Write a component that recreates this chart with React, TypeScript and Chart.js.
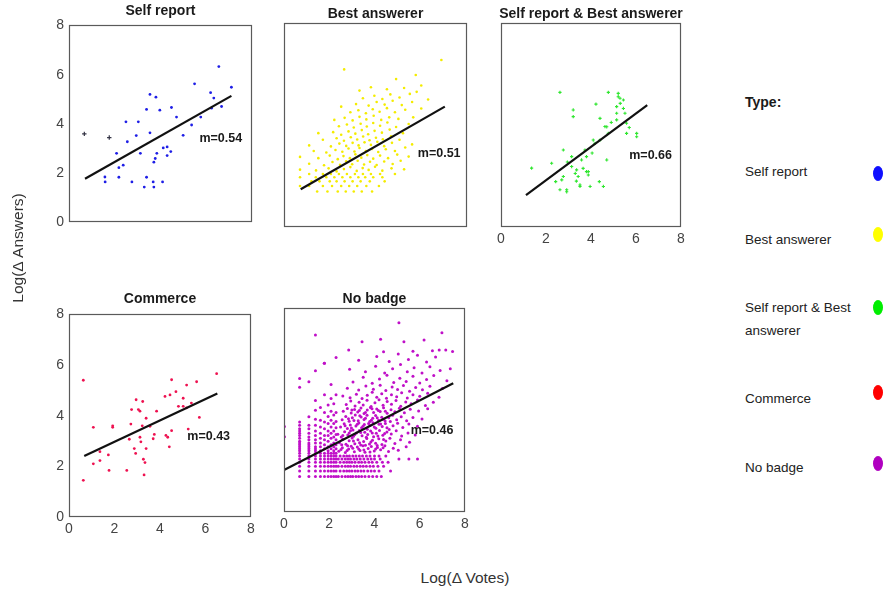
import React, { useEffect, useRef } from "react";
import { Chart, registerables } from "chart.js";
Chart.register(...registerables);

type P = [number, number];
type Row = [number, number[]];

const FONT = "'Liberation Sans', Arial, sans-serif";

// ---------- axis ticks ----------
const tickValues = [0, 2, 4, 6, 8];

// ---------- titles / legend ----------
const panelTitles = ["Self report", "Best answerer", "Self report & Best answerer", "Commerce", "No badge"];
const slopeLabels = ["m=0.54", "m=0.51", "m=0.66", "m=0.43", "m=0.46"];
const legendLabels = ["Self report", "Best answerer", "Self report & Best answerer", "Commerce", "No badge"];
const seriesColors = ["#1e1ee6", "#f4ec00", "#2ee62e", "#ee1150", "#c010c8"];
const legendColors = ["#1010ff", "#ffff00", "#00ee00", "#ff0000", "#b000c0"];

// ---------- Self report ----------
const selfReportPoints: P[] = [
  [1.57, 1.85], [1.58, 1.65], [2.08, 2.81], [2.18, 2.23], [2.18, 1.84], [2.37, 2.33], [2.49, 4.09], [2.55, 3.28],
  [2.75, 1.65], [2.94, 3.53], [3.03, 4.09], [3.12, 2.81], [3.39, 4.59], [3.39, 1.84], [3.29, 1.44], [3.54, 5.2],
  [3.54, 3.64], [3.68, 1.65], [3.71, 1.44], [3.71, 2.45], [3.77, 2.6], [3.8, 5.09], [3.84, 2.81], [3.97, 4.56],
  [4.09, 1.65], [4.12, 3.03], [4.29, 3.07], [4.29, 2.72], [4.45, 2.88], [4.48, 4.67], [4.7, 4.28], [4.99, 3.54],
  [5.36, 3.96], [5.49, 5.63], [5.76, 4.28], [6.19, 5.27], [6.23, 4.64], [6.33, 5.05], [6.55, 6.33], [6.67, 4.71],
  [7.1, 5.49],
];
const selfReportOutliers: P[] = [[0.67, 3.6], [1.76, 3.45]];
const selfReportFit: P[] = [[0.7, 1.78], [7.1, 5.14]];
const selfReportSlopePos: P = [5.7, 3.4];

// ---------- Best answerer ----------
const bestAnswererBottom: Row[] = [
  [1.39, [1.45, 1.9, 2.35, 2.7, 3.05, 3.4, 3.85]],
  [1.61, [0.7, 1.1, 1.7, 2.1, 2.5, 2.85, 3.2, 3.6, 4.15]],
  [1.79, [1.2, 1.55, 2.0, 2.3, 2.65, 3.0, 3.35, 3.75, 4.4]],
  [1.95, [0.7, 1.39, 1.85, 2.2, 2.55, 2.9, 3.25, 3.55, 3.9, 4.3]],
  [2.08, [1.1, 1.7, 2.05, 2.4, 2.75, 3.1, 3.45, 3.8, 4.2, 4.85]],
];
const bestAnswererCloud: P[] = [
  [0.7, 2.25], [1.4, 2.22], [1.95, 2.3], [2.3, 2.18], [2.62, 2.27], [2.9, 2.35], [3.18, 2.2], [3.44, 2.31], [3.7, 2.24], [3.98, 2.36], [4.3, 2.21], [4.7, 2.3], [5.25, 2.26],
  [1.1, 2.48], [1.75, 2.42], [2.12, 2.55], [2.45, 2.44], [2.72, 2.58], [2.98, 2.46], [3.22, 2.6], [3.5, 2.45], [3.76, 2.56], [4.05, 2.43], [4.38, 2.57], [4.75, 2.47], [5.1, 2.6],
  [0.7, 2.75], [1.5, 2.7], [2.0, 2.8], [2.35, 2.66], [2.6, 2.78], [2.88, 2.7], [3.12, 2.85], [3.38, 2.72], [3.64, 2.82], [3.9, 2.68], [4.2, 2.8], [4.55, 2.7], [4.95, 2.84], [5.45, 2.76],
  [1.3, 2.98], [1.85, 2.92], [2.25, 3.02], [2.55, 2.95], [2.82, 3.08], [3.08, 2.96], [3.3, 3.1], [3.58, 2.98], [3.85, 3.06], [4.12, 2.94], [4.45, 3.05], [4.85, 2.98], [5.3, 3.12],
  [1.1, 3.2], [2.05, 3.16], [2.42, 3.27], [2.72, 3.18], [3.0, 3.3], [3.26, 3.2], [3.52, 3.32], [3.8, 3.22], [4.08, 3.34], [4.38, 3.17], [4.72, 3.3], [5.6, 3.24],
  [1.7, 3.42], [2.3, 3.48], [2.62, 3.38], [2.92, 3.52], [3.2, 3.43], [3.46, 3.55], [3.74, 3.4], [4.02, 3.5], [4.32, 3.44], [4.68, 3.56], [5.05, 3.42],
  [1.5, 3.68], [2.15, 3.72], [2.5, 3.62], [2.82, 3.75], [3.12, 3.66], [3.4, 3.8], [3.68, 3.64], [3.96, 3.77], [4.28, 3.7], [4.62, 3.82], [5.2, 3.68],
  [2.4, 3.95], [2.75, 4.02], [3.05, 3.9], [3.35, 4.05], [3.62, 3.94], [3.9, 4.08], [4.2, 3.97], [4.52, 4.1], [4.9, 3.92], [5.45, 4.04],
  [2.2, 4.2], [2.65, 4.28], [3.0, 4.18], [3.3, 4.32], [3.6, 4.22], [3.92, 4.36], [4.25, 4.2], [4.6, 4.3], [5.0, 4.24], [5.65, 4.3],
  [2.9, 4.5], [3.25, 4.58], [3.58, 4.46], [3.88, 4.62], [4.18, 4.52], [4.5, 4.66], [4.85, 4.5], [5.3, 4.6],
  [2.5, 4.72], [3.15, 4.82], [3.7, 4.76], [4.05, 4.9], [4.4, 4.8], [4.75, 4.95], [5.15, 4.78], [5.6, 4.9], [6.0, 4.65],
  [3.45, 5.05], [3.95, 5.15], [4.3, 5.02], [4.65, 5.2], [5.05, 5.08], [5.5, 5.22],
  [3.3, 5.35], [3.8, 5.48], [4.5, 5.4], [5.25, 5.45], [5.8, 5.3], [6.0, 5.55],
  [2.63, 6.18], [5.76, 5.96], [6.88, 6.55], [4.9, 5.8], [6.3, 5.0],
];
const bestAnswererFit: P[] = [[0.73, 1.48], [7.03, 4.72]];
const bestAnswererSlopePos: P = [5.85, 2.9];

// ---------- Self report & Best answerer ----------
const bothPoints: P[] = [
  [2.62, 5.28], [4.77, 5.28], [5.21, 5.24], [5.29, 5.05], [5.14, 4.72], [5.44, 4.65], [4.22, 4.82], [3.21, 4.59],
  [3.21, 4.33], [5.51, 4.46], [5.14, 4.2], [4.62, 3.94], [4.77, 3.67], [5.58, 3.67], [6.03, 3.67], [4.4, 3.41],
  [4.18, 3.28], [3.73, 3.02], [3.14, 2.76], [2.77, 3.02], [3.58, 2.63], [4.7, 2.63], [3.14, 2.37], [2.25, 2.5],
  [3.36, 2.24], [3.8, 2.17], [2.77, 1.98], [3.43, 1.98], [3.88, 2.04], [2.7, 1.85], [2.92, 1.46], [2.62, 1.46],
  [3.51, 1.59], [3.96, 1.59], [4.55, 1.59], [1.36, 2.31], [4.4, 4.26], [5.58, 4.07], [3.8, 2.76], [4.1, 3.41],
  [2.43, 1.78], [4.37, 1.78], [2.92, 1.38], [3.51, 1.65], [3.88, 2.17], [6.03, 3.54], [5.21, 5.11], [5.44, 4.98],
  [4.7, 3.93], [5.14, 4.46], [3.3, 2.1], [3.65, 2.3], [2.95, 2.55], [4.05, 2.9], [3.35, 1.8], [5.7, 3.9],
  [4.9, 4.1], [5.3, 4.85],
];
const bothFit: P[] = [[1.11, 1.25], [6.5, 4.78]];
const bothSlopePos: P = [5.7, 2.82];

// ---------- Commerce ----------
const commercePoints: P[] = [
  [0.63, 5.4], [0.63, 1.45], [1.07, 3.54], [1.07, 2.1], [1.36, 2.23], [1.36, 2.58], [1.73, 2.45], [1.76, 1.84],
  [1.92, 3.6], [1.92, 3.54], [2.54, 1.84], [2.65, 3.07], [2.72, 3.67], [2.75, 4.24], [2.87, 2.7], [2.93, 2.51],
  [2.95, 4.63], [3.05, 4.24], [3.12, 4.18], [3.12, 3.15], [3.16, 2.97], [3.22, 3.6], [3.24, 4.56], [3.27, 2.28],
  [3.3, 1.66], [3.34, 2.15], [3.39, 3.9], [3.39, 2.7], [3.56, 3.58], [3.7, 3.09], [3.75, 3.26], [3.85, 4.18],
  [4.22, 4.76], [4.26, 3.22], [4.34, 3.15], [4.41, 2.77], [4.44, 4.82], [4.51, 3.41], [4.51, 5.42], [4.7, 4.95],
  [4.81, 4.37], [5.02, 4.69], [5.02, 4.37], [5.17, 5.21], [5.24, 3.47], [5.38, 4.5], [5.17, 4.31], [5.61, 5.34],
  [5.73, 3.93], [6.49, 5.66],
];
const commerceFit: P[] = [[0.67, 2.41], [6.52, 4.88]];
const commerceSlopePos: P = [5.2, 3.19];

// ---------- No badge ----------
// columns: x, list of y
const noBadgeColumns: Row[] = [
  [0.69, [1.39, 1.61, 1.79, 1.95, 2.08, 2.2, 2.3, 2.4, 2.48, 2.56, 2.64, 2.71, 2.77, 2.89, 3.0, 3.09, 3.18, 3.26, 3.4, 3.53, 4.89, 5.24]],
  [1.1, [1.39, 1.61, 1.79, 1.95, 2.08, 2.2, 2.3, 2.4, 2.48, 2.56, 2.64, 2.71, 2.83, 2.94, 3.09, 3.26, 3.4, 3.74, 5.11]],
  [1.39, [1.39, 1.61, 1.79, 1.95, 2.08, 2.2, 2.3, 2.4, 2.48, 2.56, 2.71, 2.83, 3.0, 3.18, 3.4, 3.64, 3.99, 4.37, 5.54, 6.94]],
  [1.61, [1.39, 1.61, 1.79, 1.95, 2.08, 2.2, 2.3, 2.4, 2.56, 2.71, 2.89, 3.09, 3.33, 3.6, 4.1]],
  [1.79, [1.39, 1.61, 1.79, 1.95, 2.08, 2.2, 2.3, 2.48, 2.64, 2.83, 3.0, 3.26, 3.53, 3.9, 4.6, 5.83]],
  [1.95, [1.39, 1.61, 1.79, 1.95, 2.08, 2.2, 2.3, 2.4, 2.56, 2.77, 3.0, 3.18, 3.47, 3.75, 4.2]],
  [2.08, [1.39, 1.61, 1.79, 1.95, 2.08, 2.2, 2.3, 2.48, 2.64, 2.89, 3.09, 3.33, 3.6, 3.95, 4.45, 5.0]],
  [2.2, [1.39, 1.61, 1.79, 1.95, 2.08, 2.2, 2.3, 2.4, 2.56, 2.71, 2.94, 3.18, 3.47, 3.8, 4.25]],
  [2.3, [1.39, 1.61, 1.79, 1.95, 2.08, 2.2, 2.3, 2.48, 2.64, 2.83, 3.04, 3.3, 3.55, 3.9, 4.6, 6.06]],
];
// bottom rows: y, list of x
const noBadgeRows: Row[] = [
  [1.39, [2.4, 2.56, 2.71, 2.83, 2.94, 3.04, 3.18, 3.3, 3.43, 3.58, 3.75, 3.92, 4.1, 4.3]],
  [1.61, [2.48, 2.64, 2.77, 2.89, 3.0, 3.14, 3.26, 3.4, 3.53, 3.7, 3.85, 4.0, 4.2, 4.71]],
  [1.79, [2.4, 2.56, 2.71, 2.83, 2.94, 3.09, 3.22, 3.37, 3.5, 3.64, 3.8, 3.95, 4.15, 4.4]],
  [1.95, [2.48, 2.64, 2.77, 2.89, 3.0, 3.14, 3.3, 3.43, 3.58, 3.75, 3.9, 4.1, 4.35, 4.6]],
  [2.08, [2.4, 2.56, 2.71, 2.83, 2.94, 3.09, 3.22, 3.37, 3.53, 3.7, 3.85, 4.0, 4.25, 5.08, 5.52, 5.9]],
  [2.2, [2.48, 2.64, 2.77, 2.89, 3.04, 3.18, 3.33, 3.47, 3.64, 3.8, 4.0, 4.2, 4.5]],
];
const noBadgeCloud: P[] = [
  [2.42, 2.38], [2.58, 2.52], [2.71, 2.33], [2.86, 2.47], [2.97, 2.58], [3.11, 2.36], [3.24, 2.55], [3.36, 2.41], [3.49, 2.6], [3.58, 2.34], [3.72, 2.49], [3.86, 2.57], [3.99, 2.39], [4.13, 2.53], [4.27, 2.44], [4.46, 2.6], [4.62, 2.37], [4.83, 2.5], [5.05, 2.42], [5.4, 2.56],
  [2.45, 2.72], [2.6, 2.85], [2.74, 2.66], [2.88, 2.79], [3.01, 2.9], [3.13, 2.68], [3.27, 2.83], [3.39, 2.63], [3.52, 2.76], [3.66, 2.88], [3.78, 2.67], [3.91, 2.81], [4.05, 2.7], [4.19, 2.87], [4.33, 2.65], [4.5, 2.78], [4.68, 2.89], [4.9, 2.69], [5.15, 2.83], [5.55, 2.74],
  [2.38, 3.05], [2.53, 2.94], [2.68, 3.15], [2.82, 3.02], [2.94, 3.19], [3.07, 2.97], [3.2, 3.1], [3.33, 3.2], [3.45, 2.99], [3.57, 3.13], [3.7, 3.04], [3.83, 3.18], [3.96, 2.95], [4.08, 3.09], [4.22, 3.2], [4.37, 3.01], [4.55, 3.14], [4.74, 3.06], [4.96, 3.19], [5.2, 2.98], [5.48, 3.1], [5.8, 3.02],
  [2.5, 3.33], [2.66, 3.46], [2.8, 3.27], [2.93, 3.41], [3.05, 3.22], [3.18, 3.37], [3.31, 3.49], [3.43, 3.3], [3.55, 3.43], [3.68, 3.25], [3.8, 3.39], [3.93, 3.5], [4.06, 3.28], [4.2, 3.44], [4.34, 3.35], [4.48, 3.47], [4.65, 3.24], [4.82, 3.38], [5.02, 3.48], [5.25, 3.31], [5.52, 3.45], [5.9, 3.36],
  [2.57, 3.62], [2.73, 3.75], [2.88, 3.56], [3.02, 3.7], [3.15, 3.8], [3.28, 3.58], [3.41, 3.73], [3.54, 3.63], [3.67, 3.79], [3.79, 3.55], [3.92, 3.68], [4.05, 3.78], [4.18, 3.6], [4.32, 3.72], [4.47, 3.57], [4.63, 3.7], [4.8, 3.79], [4.98, 3.62], [5.18, 3.74], [5.42, 3.58], [5.7, 3.71], [6.1, 3.65],
  [2.62, 3.95], [2.8, 4.06], [2.97, 3.88], [3.12, 4.02], [3.26, 3.92], [3.4, 4.08], [3.54, 3.86], [3.68, 4.0], [3.82, 4.1], [3.96, 3.9], [4.1, 4.04], [4.25, 3.94], [4.4, 4.09], [4.56, 3.87], [4.73, 4.01], [4.9, 3.93], [5.1, 4.07], [5.32, 3.89], [5.58, 4.03], [5.95, 3.96], [6.35, 4.05],
  [2.75, 4.22], [2.95, 4.35], [3.14, 4.16], [3.32, 4.3], [3.5, 4.2], [3.67, 4.38], [3.85, 4.14], [4.02, 4.28], [4.2, 4.4], [4.38, 4.19], [4.56, 4.33], [4.75, 4.23], [4.95, 4.37], [5.16, 4.15], [5.38, 4.31], [5.62, 4.25], [5.9, 4.39], [6.25, 4.18], [6.6, 4.3],
  [2.6, 4.55], [2.92, 4.48], [3.2, 4.62], [3.45, 4.45], [3.68, 4.58], [3.9, 4.7], [4.1, 4.5], [4.32, 4.64], [4.53, 4.46], [4.75, 4.6], [4.98, 4.52], [5.2, 4.68], [5.45, 4.47], [5.7, 4.6], [6.0, 4.54], [6.35, 4.66], [6.85, 4.5],
  [2.8, 4.85], [3.3, 4.78], [3.62, 4.94], [3.95, 4.81], [4.25, 4.97], [4.5, 4.76], [4.78, 4.9], [5.02, 4.8], [5.28, 4.96], [5.55, 4.74], [5.82, 4.88], [6.12, 4.79], [6.45, 4.93], [7.0, 4.84],
  [3.05, 5.1], [3.5, 5.28], [3.9, 5.05], [4.22, 5.22], [4.55, 5.36], [4.85, 5.08], [5.12, 5.25], [5.4, 5.12], [5.7, 5.32], [6.0, 5.06], [6.3, 5.2], [6.62, 5.35], [7.2, 5.15],
  [2.9, 5.6], [3.6, 5.5], [4.05, 5.72], [4.45, 5.45], [4.8, 5.62], [5.15, 5.78], [5.45, 5.5], [5.75, 5.66], [6.1, 5.45], [6.45, 5.7], [6.9, 5.55], [7.35, 5.62],
  [3.3, 5.95], [4.1, 6.1], [4.65, 5.9], [5.05, 6.2], [5.5, 5.98], [5.9, 6.15], [6.3, 5.88], [6.7, 6.08], [4.4, 6.28], [5.7, 6.3],
  [2.52, 2.45], [2.79, 2.41], [3.04, 2.5], [3.3, 2.47], [3.53, 2.43], [3.8, 2.35], [4.05, 2.47], [4.38, 2.52],
  [2.55, 2.64], [2.81, 2.6], [3.07, 2.78], [3.34, 2.72], [3.6, 2.62], [3.84, 2.75], [4.12, 2.61], [4.4, 2.84],
  [2.6, 3.0], [2.88, 3.1], [3.13, 3.04], [3.39, 3.12], [3.64, 2.93], [3.9, 3.1], [4.15, 2.98], [4.45, 3.08],
  [2.7, 3.38], [2.98, 3.29], [3.24, 3.44], [3.49, 3.36], [3.74, 3.47], [3.99, 3.33], [4.27, 3.45], [4.55, 3.3],
  [2.85, 3.66], [3.09, 3.59], [3.35, 3.77], [3.6, 3.68], [3.86, 3.6], [4.12, 3.7], [4.39, 3.64], [4.7, 3.55],
  [3.0, 4.0], [3.33, 3.98], [3.6, 3.9], [3.89, 4.05], [4.17, 3.98], [4.48, 3.95],
  [2.86, 6.35], [3.45, 6.68], [4.27, 6.77], [5.08, 7.42], [6.98, 7.03], [5.3, 6.68], [6.19, 6.75],
  [6.86, 6.35], [7.45, 6.29], [7.15, 6.35], [6.56, 6.32], [1.78, 5.83], [0.02, 3.35], [0.02, 2.95],
];
const noBadgeFit: P[] = [[0, 1.65], [7.48, 5.05]];
const noBadgeSlopePos: P = [5.6, 3.19];

// ---------- helpers ----------
const fromColumns = (cols: Row[]): P[] => cols.flatMap(([x, ys]) => ys.map((y) => [x, y] as P));
const fromRows = (rows: Row[]): P[] => rows.flatMap(([y, xs]) => xs.map((x) => [x, y] as P));
const toXY = (pts: P[]) => pts.map(([x, y]) => ({ x, y }));

type Box = { l: number; t: number; w: number; h: number };
type Extra = { points: P[]; color: string; radius: number; style?: string };
type PanelCfg = {
  title: string;
  box: Box;
  showX: boolean;
  showY: boolean;
  points: P[];
  color: string;
  radius: number;
  style?: string;
  extras?: Extra[];
  fit: P[];
  slope: string;
  slopePos: P;
};

const PAD = 8;
const YW = 26;
const XH = 24;

const panels: PanelCfg[] = [
  {
    title: panelTitles[0], box: { l: 69, t: 20, w: 183, h: 208 }, showX: false, showY: true,
    points: selfReportPoints, color: seriesColors[0], radius: 1.4,
    extras: [{ points: selfReportOutliers, color: "#333344", radius: 2.2, style: "cross" }],
    fit: selfReportFit, slope: slopeLabels[0], slopePos: selfReportSlopePos,
  },
  {
    title: panelTitles[1], box: { l: 284, t: 23, w: 183, h: 204 }, showX: false, showY: false,
    points: [...fromRows(bestAnswererBottom), ...bestAnswererCloud], color: seriesColors[1], radius: 1.3,
    fit: bestAnswererFit, slope: slopeLabels[1], slopePos: bestAnswererSlopePos,
  },
  {
    title: panelTitles[2], box: { l: 501, t: 23, w: 180, h: 204 }, showX: true, showY: false,
    points: bothPoints, color: seriesColors[2], radius: 1.6, style: "cross",
    fit: bothFit, slope: slopeLabels[2], slopePos: bothSlopePos,
  },
  {
    title: panelTitles[3], box: { l: 69, t: 309, w: 182, h: 208 }, showX: true, showY: true,
    points: commercePoints, color: seriesColors[3], radius: 1.4,
    fit: commerceFit, slope: slopeLabels[3], slopePos: commerceSlopePos,
  },
  {
    title: panelTitles[4], box: { l: 284, t: 308, w: 181, h: 204 }, showX: true, showY: false,
    points: [...fromColumns(noBadgeColumns), ...fromRows(noBadgeRows), ...noBadgeCloud], color: seriesColors[4], radius: 1.5,
    fit: noBadgeFit, slope: slopeLabels[4], slopePos: noBadgeSlopePos,
  },
];

const boxPlugin = {
  id: "panelBox",
  afterDraw(chart: any) {
    const { ctx, chartArea: a } = chart;
    const cfg: PanelCfg = chart.options.plugins.panelBox.cfg;
    ctx.save();
    ctx.strokeStyle = "#5a5a5a";
    ctx.lineWidth = 1.2;
    ctx.strokeRect(Math.round(a.left) + 0.5, Math.round(a.top) + 0.5, Math.round(a.right - a.left) - 1, Math.round(a.bottom - a.top) - 1);
    const px = chart.scales.x.getPixelForValue(cfg.slopePos[0]);
    const py = chart.scales.y.getPixelForValue(cfg.slopePos[1]);
    ctx.fillStyle = "#1a1a1a";
    ctx.font = `bold 12.5px ${FONT}`;
    ctx.textAlign = "left";
    ctx.textBaseline = "middle";
    ctx.fillText(cfg.slope, px, py);
    ctx.restore();
  },
};

function Panel({ cfg }: { cfg: PanelCfg }) {
  const ref = useRef<HTMLCanvasElement>(null);
  const yW = cfg.showY ? YW : 0;
  const xH = cfg.showX ? XH : 0;
  const width = cfg.box.w + 2 * PAD + yW;
  const height = cfg.box.h + 2 * PAD + xH;
  useEffect(() => {
    if (!ref.current) return;
    const datasets: any[] = [
      {
        data: toXY(cfg.fit), showLine: true, borderColor: "#111111", borderWidth: 2.2,
        pointRadius: 0, fill: false,
      },
      ...(cfg.extras || []).map((e) => ({
        data: toXY(e.points), pointStyle: e.style || "circle", pointRadius: e.radius,
        borderColor: e.color, backgroundColor: e.color, borderWidth: 1.2,
      })),
      {
        data: toXY(cfg.points), pointStyle: cfg.style || "circle", pointRadius: cfg.radius,
        backgroundColor: cfg.color, borderColor: cfg.color, borderWidth: cfg.style ? 1.1 : 0,
      },
    ];
    const tickFont = { family: FONT, size: 14 };
    const chart = new Chart(ref.current, {
      type: "scatter",
      data: { datasets },
      options: {
        animation: false,
        responsive: false,
        events: [],
        layout: { padding: PAD },
        plugins: {
          legend: { display: false },
          tooltip: { enabled: false },
          panelBox: { cfg },
        } as any,
        scales: {
          x: {
            type: "linear", min: 0, max: 8,
            afterBuildTicks: (s: any) => { s.ticks = tickValues.map((v) => ({ value: v })); },
            ticks: { display: cfg.showX, font: tickFont, color: "#444", padding: 4, maxRotation: 0, autoSkip: false },
            grid: { display: false, drawTicks: false },
            border: { display: false },
            afterFit: (s: any) => { s.height = xH; },
          },
          y: {
            type: "linear", min: 0, max: 8,
            afterBuildTicks: (s: any) => { s.ticks = tickValues.map((v) => ({ value: v })); },
            ticks: { display: cfg.showY, font: tickFont, color: "#444", padding: 5, autoSkip: false },
            grid: { display: false, drawTicks: false },
            border: { display: false },
            afterFit: (s: any) => { s.width = yW; },
          },
        },
      },
      plugins: [boxPlugin],
    });
    return () => chart.destroy();
  }, []);
  return (
    <canvas
      ref={ref}
      width={width}
      height={height}
      style={{
        position: "absolute",
        left: cfg.box.l - PAD - yW,
        top: cfg.box.t - PAD,
        width,
        height,
      }}
    />
  );
}

const titleCenters: P[] = [[160.5, 10], [375.5, 12.5], [591, 12.5], [160, 298], [374.5, 298]];
const legendTextY = [169, 236.5, 305, 396, 465];
const legendDotY = [173, 234, 307, 392, 463];

export default function App() {
  return (
    <div
      style={{
        position: "absolute", left: 0, top: 0, width: 888, height: 592, background: "#fff",
        fontFamily: FONT, color: "#1a1a1a", overflow: "hidden",
      }}
    >
      {panels.map((p, i) => (
        <Panel key={i} cfg={p} />
      ))}
      {panels.map((p, i) => (
        <div
          key={"t" + i}
          style={{
            position: "absolute", left: titleCenters[i][0] - 150, width: 300, top: titleCenters[i][1] - 9,
            height: 18, lineHeight: "18px", textAlign: "center", fontWeight: "bold", fontSize: 14, whiteSpace: "nowrap",
          }}
        >
          {p.title}
        </div>
      ))}
      <div
        style={{
          position: "absolute", left: 18 - 100, top: 248 - 10, width: 200, height: 20, lineHeight: "20px",
          textAlign: "center", fontSize: 15.5, transform: "rotate(-90deg)", whiteSpace: "nowrap", color: "#333",
        }}
      >
        Log(Δ Answers)
      </div>
      <div
        style={{
          position: "absolute", left: 465 - 100, top: 578 - 10, width: 200, height: 20, lineHeight: "20px",
          textAlign: "center", fontSize: 15.5, whiteSpace: "nowrap", color: "#333",
        }}
      >
        Log(Δ Votes)
      </div>
      <div
        style={{
          position: "absolute", left: 745, top: 101.5 - 9, height: 18, lineHeight: "18px",
          fontWeight: "bold", fontSize: 14, whiteSpace: "nowrap",
        }}
      >
        Type:
      </div>
      {legendLabels.map((lab, i) => (
        <React.Fragment key={"l" + i}>
          <div
            style={{
              position: "absolute", left: 745, top: legendTextY[i] - 9, width: 118, lineHeight: "23px",
              fontSize: 13.5, color: "#222",
            }}
          >
            {lab}
          </div>
          <div
            style={{
              position: "absolute", left: 878 - 5, top: legendDotY[i] - 7.5, width: 10, height: 15,
              borderRadius: "50%", background: legendColors[i],
            }}
          />
        </React.Fragment>
      ))}
    </div>
  );
}
